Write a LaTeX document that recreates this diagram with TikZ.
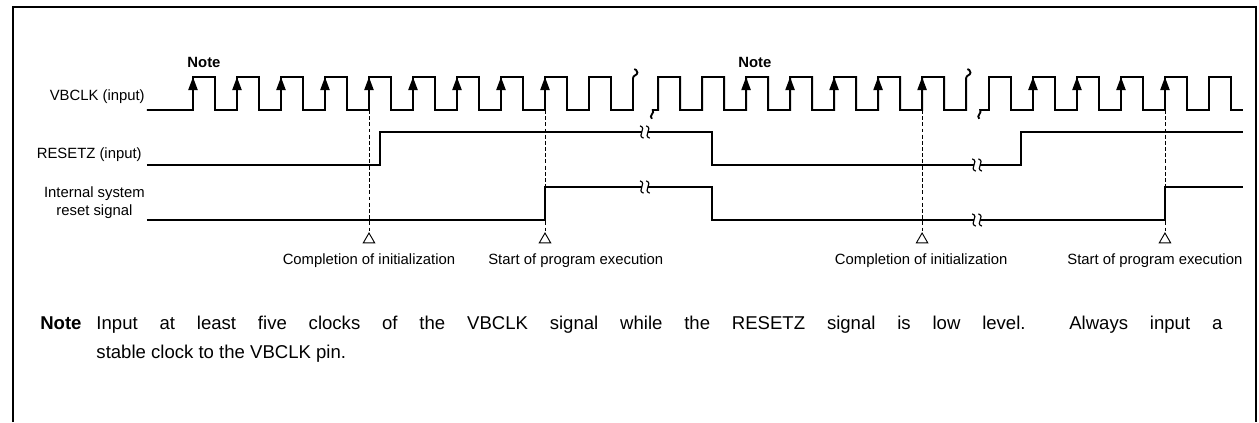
\documentclass[tikz,border=0pt]{standalone}
\usepackage{fontspec}
\setmainfont{Liberation Sans}
\usetikzlibrary{arrows.meta,shapes.geometric}

\tikzset{
    wave/.style={line width=1.2pt},
    edgearrow/.style={line width=1.2pt, -{Triangle[length=3mm,width=2.1mm]}},
    guide/.style={line width=0.6pt, dash pattern=on 2.5pt off 1.5pt},
    marker/.style={draw, line width=0.6pt, fill=white, regular polygon, regular polygon sides=3, minimum size=0.3cm, inner sep=0pt},
    lbl/.style={inner sep=0pt, font=\fontsize{9.6}{11.5}\selectfont},
    notetext/.style={inner sep=0pt, font=\fontsize{12}{14}\selectfont},
    pics/gapmark/.style={code={
        \draw[line width=0.75pt] (-0.11,0.14) .. controls (0.06,0.08) and (-0.2,-0.08) .. (-0.03,-0.14);
        \draw[line width=0.75pt] (0.03,0.14) .. controls (0.2,0.08) and (-0.06,-0.08) .. (0.11,-0.14);
    }}
}

\begin{document}
\begin{tikzpicture}
        \useasboundingbox (-3.386,-4.591) rectangle (25.227,5.0);

        % frame
        \draw[wave] (-3.09,-4.591) -- (-3.09,4.84) -- (25.16,4.84) -- (25.16,-4.591);

        % signal names
        \node[lbl, anchor=east] (nameclk) at(-0.09, 2.8){VBCLK (input)};
        \node[lbl, anchor=east] (namerst) at(-0.16, 1.48){RESETZ (input)};
        \node[lbl, anchor=east, align=center] (nameint) at(-0.09, 0.39){Internal system\\reset signal};

        \node[lbl, font=\fontsize{9.6}{11.5}\selectfont\bfseries] (noteA) at(1.25, 3.57){Note};
        \node[lbl, font=\fontsize{9.6}{11.5}\selectfont\bfseries] (noteB) at(13.77, 3.59){Note};

        % markers and guides
        \node[marker] (mkA) at(5, -0.446){};
        \node[marker] (mkB) at(9, -0.446){};
        \node[marker] (mkC) at(17.57, -0.446){};
        \node[marker] (mkD) at(23.09, -0.446){};
        \coordinate (gA) at(5, 2.5);
        \coordinate (gB) at(9, 2.5);
        \coordinate (gC) at(17.57, 2.5);
        \coordinate (gD) at(23.09, 2.5);
        \draw[guide] (gA) -- (mkA.corner 1);
        \draw[guide] (gB) -- (mkB.corner 1);
        \draw[guide] (gC) -- (mkC.corner 1);
        \draw[guide] (gD) -- (mkD.corner 1);

        \node[lbl] (evA) at(5, -0.93){Completion of initialization};
        \node[lbl] (evB) at(9.70, -0.93){Start of program execution};
        \node[lbl] (evC) at(17.55, -0.93){Completion of initialization};
        \node[lbl] (evD) at(22.86, -0.93){Start of program execution};

        % VBCLK
        \draw[wave] (-0.05, 2.5) -| (1, 3.25) -| (1.5, 2.5) -| (2, 3.25) -| (2.5, 2.5) -| (3, 3.25) -| (3.5, 2.5)
            -| (4, 3.25) -| (4.5, 2.5) -| (5, 3.25) -| (5.5, 2.5) -| (6, 3.25) -| (6.5, 2.5) -| (7, 3.25) -| (7.5, 2.5)
            -| (8, 3.25) -| (8.5, 2.5) -| (9, 3.25) -| (9.5, 2.5) -| (10, 3.25) -| (10.5, 2.5) -| (11, 3.22)
            .. controls (11, 3.3) and (11.1, 3.28) .. (11.1, 3.35) .. controls (11.1, 3.41) and (11.05, 3.42) .. (11.03, 3.43);
        \draw[wave] (11.43, 2.3) .. controls (11.35, 2.37) and (11.5, 2.43) .. (11.45, 2.5)
            -| (11.57, 3.25) -| (12.07, 2.5) -| (12.57, 3.25) -| (13.07, 2.5) -| (13.57, 3.25) -| (14.07, 2.5)
            -| (14.57, 3.25) -| (15.07, 2.5) -| (15.57, 3.25) -| (16.07, 2.5) -| (16.57, 3.25) -| (17.07, 2.5)
            -| (17.57, 3.25) -| (18.07, 2.5) -| (18.57, 3.22)
            .. controls (18.57, 3.3) and (18.67, 3.28) .. (18.67, 3.35) .. controls (18.67, 3.41) and (18.62, 3.42) .. (18.6, 3.43);
        \draw[wave] (18.87, 2.3) .. controls (18.79, 2.37) and (18.94, 2.43) .. (18.89, 2.5)
            -| (19.09, 3.25) -| (19.59, 2.5) -| (20.09, 3.25) -| (20.59, 2.5) -| (21.09, 3.25) -| (21.59, 2.5)
            -| (22.09, 3.25) -| (22.59, 2.5) -| (23.09, 3.25) -| (23.59, 2.5) -| (24.09, 3.25) -| (24.59, 2.5) -- (24.86, 2.5);

            \draw[edgearrow] (1, 2.5) -- (1, 3.25);
            \draw[edgearrow] (2, 2.5) -- (2, 3.25);
            \draw[edgearrow] (3, 2.5) -- (3, 3.25);
            \draw[edgearrow] (4, 2.5) -- (4, 3.25);
            \draw[edgearrow] (5, 2.5) -- (5, 3.25);
            \draw[edgearrow] (6, 2.5) -- (6, 3.25);
            \draw[edgearrow] (7, 2.5) -- (7, 3.25);
            \draw[edgearrow] (8, 2.5) -- (8, 3.25);
            \draw[edgearrow] (9, 2.5) -- (9, 3.25);
            \draw[edgearrow] (13.57, 2.5) -- (13.57, 3.25);
            \draw[edgearrow] (14.57, 2.5) -- (14.57, 3.25);
            \draw[edgearrow] (15.57, 2.5) -- (15.57, 3.25);
            \draw[edgearrow] (16.57, 2.5) -- (16.57, 3.25);
            \draw[edgearrow] (17.57, 2.5) -- (17.57, 3.25);
            \draw[edgearrow] (20.09, 2.5) -- (20.09, 3.25);
            \draw[edgearrow] (21.09, 2.5) -- (21.09, 3.25);
            \draw[edgearrow] (22.09, 2.5) -- (22.09, 3.25);
            \draw[edgearrow] (23.09, 2.5) -- (23.09, 3.25);

        % RESETZ
        \draw[wave] (-0.05, 1.25) -| (5.25, 2) -- (11.21, 2);
        \draw[wave] (11.33, 2) -| (12.8, 1.25) -- (18.76, 1.25);
        \draw[wave] (18.88, 1.25) -| (19.82, 2) -- (24.86, 2);
        \pic at(11.27, 2) {gapmark};
        \pic at(18.82, 1.25) {gapmark};

        % internal reset
        \draw[wave] (-0.05, 0) -| (9, 0.75) -- (11.21, 0.75);
        \draw[wave] (11.33, 0.75) -| (12.8, 0) -- (18.76, 0);
        \draw[wave] (18.88, 0) -| (23.09, 0.75) -- (24.86, 0.75);
        \pic at(11.27, 0.75) {gapmark};
        \pic at(18.82, 0) {gapmark};

        % note
        \node[notetext, font=\fontsize{12}{14}\selectfont\bfseries, anchor=base west] (notetag) at(-2.477, -2.489){Note};
        \node[notetext, anchor=base west] (notebody) at(-1.2, -2.489){\makebox[25.59cm][s]{Input at least five clocks of the VBCLK signal while the RESETZ signal is low level.\ \ Always input a}};
        \node[notetext, anchor=base west] (notecont) at(-1.2, -3.148){stable clock to the VBCLK pin.};

    \end{tikzpicture}
\end{document}
